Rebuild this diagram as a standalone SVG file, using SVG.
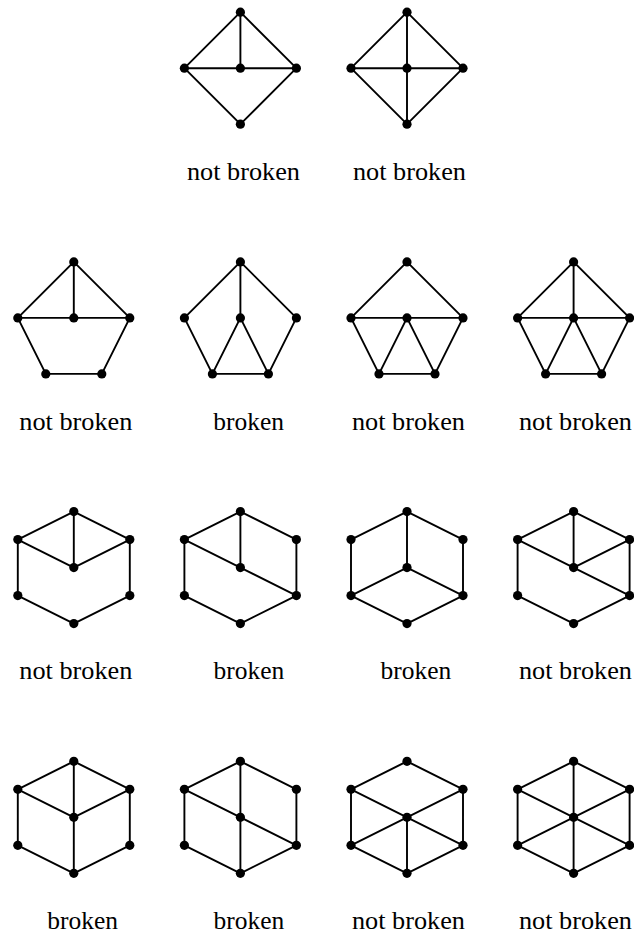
<svg xmlns="http://www.w3.org/2000/svg" width="634" height="933" viewBox="0 0 634 933">
<style>
.e{fill:none;stroke:#000;stroke-width:1.9;stroke-linejoin:round}
.n{fill:#000}
text{font-family:"Liberation Serif","Times New Roman","DejaVu Serif",serif;font-size:25px;fill:#000}
</style>
<rect width="634" height="933" fill="#fff"/>
<g id="connectors">
<path class="e" d="M240.4,12.2 L184.4,68.2 L240.4,124.2 L296.4,68.2 Z M184.4,68.2 H296.4 M240.4,12.2 V68.2"/>
<path class="e" d="M407,12.2 L351,68.2 L407,124.2 L463,68.2 Z M351,68.2 H463 M407,12.2 V124.2"/>
<path class="e" d="M73.8,261.9 L17.8,317.9 L45.8,373.9 H101.8 L129.8,317.9 Z M17.8,317.9 H129.8 M73.8,261.9 V317.9"/>
<path class="e" d="M240.4,261.9 L184.4,317.9 L212.4,373.9 H268.4 L296.4,317.9 Z M240.4,261.9 V317.9 M212.4,373.9 L240.4,317.9 L268.4,373.9"/>
<path class="e" d="M407,261.9 L351,317.9 L379,373.9 H435 L463,317.9 Z M351,317.9 H463 M379,373.9 L407,317.9 L435,373.9"/>
<path class="e" d="M573.6,261.9 L517.6,317.9 L545.6,373.9 H601.6 L629.6,317.9 Z M517.6,317.9 H629.6 M573.6,261.9 V317.9 M545.6,373.9 L573.6,317.9 L601.6,373.9"/>
<path class="e" d="M73.8,511.6 L129.8,539.6 V595.6 L73.8,623.6 L17.8,595.6 V539.6 Z M73.8,511.6 V567.6 M17.8,539.6 L73.8,567.6 L129.8,539.6"/>
<path class="e" d="M240.4,511.6 L296.4,539.6 V595.6 L240.4,623.6 L184.4,595.6 V539.6 Z M240.4,511.6 V567.6 M184.4,539.6 L240.4,567.6 L296.4,595.6"/>
<path class="e" d="M407,511.6 L463,539.6 V595.6 L407,623.6 L351,595.6 V539.6 Z M407,511.6 V567.6 M351,595.6 L407,567.6 L463,595.6"/>
<path class="e" d="M573.6,511.6 L629.6,539.6 V595.6 L573.6,623.6 L517.6,595.6 V539.6 Z M573.6,511.6 V567.6 M517.6,539.6 L573.6,567.6 L629.6,595.6 M573.6,567.6 L629.6,539.6"/>
<path class="e" d="M73.8,761.3 L129.8,789.3 V845.3 L73.8,873.3 L17.8,845.3 V789.3 Z M73.8,761.3 V873.3 M17.8,789.3 L73.8,817.3 L129.8,789.3"/>
<path class="e" d="M240.4,761.3 L296.4,789.3 V845.3 L240.4,873.3 L184.4,845.3 V789.3 Z M240.4,761.3 V873.3 M184.4,789.3 L296.4,845.3"/>
<path class="e" d="M407,761.3 L463,789.3 V845.3 L407,873.3 L351,845.3 V789.3 Z M351,789.3 L463,845.3 M351,845.3 L463,789.3 M407,817.3 V873.3"/>
<path class="e" d="M573.6,761.3 L629.6,789.3 V845.3 L573.6,873.3 L517.6,845.3 V789.3 Z M573.6,761.3 V873.3 M517.6,789.3 L629.6,845.3 M517.6,845.3 L629.6,789.3"/>
</g>
<g id="nodes">
<g id="a1-t"><circle class="n" cx="240.4" cy="12.2" r="4.6"/></g>
<g id="a1-l"><circle class="n" cx="184.4" cy="68.2" r="4.6"/></g>
<g id="a1-c"><circle class="n" cx="240.4" cy="68.2" r="4.6"/></g>
<g id="a1-r"><circle class="n" cx="296.4" cy="68.2" r="4.6"/></g>
<g id="a1-b"><circle class="n" cx="240.4" cy="124.2" r="4.6"/></g>
<g id="a2-t"><circle class="n" cx="407" cy="12.2" r="4.6"/></g>
<g id="a2-l"><circle class="n" cx="351" cy="68.2" r="4.6"/></g>
<g id="a2-c"><circle class="n" cx="407" cy="68.2" r="4.6"/></g>
<g id="a2-r"><circle class="n" cx="463" cy="68.2" r="4.6"/></g>
<g id="a2-b"><circle class="n" cx="407" cy="124.2" r="4.6"/></g>

<g id="b1-t"><circle class="n" cx="73.8" cy="261.9" r="4.6"/></g>
<g id="b1-l"><circle class="n" cx="17.8" cy="317.9" r="4.6"/></g>
<g id="b1-c"><circle class="n" cx="73.8" cy="317.9" r="4.6"/></g>
<g id="b1-r"><circle class="n" cx="129.8" cy="317.9" r="4.6"/></g>
<g id="b1-bl"><circle class="n" cx="45.8" cy="373.9" r="4.6"/></g>
<g id="b1-br"><circle class="n" cx="101.8" cy="373.9" r="4.6"/></g>
<g id="b2-t"><circle class="n" cx="240.4" cy="261.9" r="4.6"/></g>
<g id="b2-l"><circle class="n" cx="184.4" cy="317.9" r="4.6"/></g>
<g id="b2-c"><circle class="n" cx="240.4" cy="317.9" r="4.6"/></g>
<g id="b2-r"><circle class="n" cx="296.4" cy="317.9" r="4.6"/></g>
<g id="b2-bl"><circle class="n" cx="212.4" cy="373.9" r="4.6"/></g>
<g id="b2-br"><circle class="n" cx="268.4" cy="373.9" r="4.6"/></g>
<g id="b3-t"><circle class="n" cx="407" cy="261.9" r="4.6"/></g>
<g id="b3-l"><circle class="n" cx="351" cy="317.9" r="4.6"/></g>
<g id="b3-c"><circle class="n" cx="407" cy="317.9" r="4.6"/></g>
<g id="b3-r"><circle class="n" cx="463" cy="317.9" r="4.6"/></g>
<g id="b3-bl"><circle class="n" cx="379" cy="373.9" r="4.6"/></g>
<g id="b3-br"><circle class="n" cx="435" cy="373.9" r="4.6"/></g>
<g id="b4-t"><circle class="n" cx="573.6" cy="261.9" r="4.6"/></g>
<g id="b4-l"><circle class="n" cx="517.6" cy="317.9" r="4.6"/></g>
<g id="b4-c"><circle class="n" cx="573.6" cy="317.9" r="4.6"/></g>
<g id="b4-r"><circle class="n" cx="629.6" cy="317.9" r="4.6"/></g>
<g id="b4-bl"><circle class="n" cx="545.6" cy="373.9" r="4.6"/></g>
<g id="b4-br"><circle class="n" cx="601.6" cy="373.9" r="4.6"/></g>

<g id="c1-t"><circle class="n" cx="73.8" cy="511.6" r="4.6"/></g>
<g id="c1-ul"><circle class="n" cx="17.8" cy="539.6" r="4.6"/></g>
<g id="c1-ur"><circle class="n" cx="129.8" cy="539.6" r="4.6"/></g>
<g id="c1-c"><circle class="n" cx="73.8" cy="567.6" r="4.6"/></g>
<g id="c1-ll"><circle class="n" cx="17.8" cy="595.6" r="4.6"/></g>
<g id="c1-lr"><circle class="n" cx="129.8" cy="595.6" r="4.6"/></g>
<g id="c1-b"><circle class="n" cx="73.8" cy="623.6" r="4.6"/></g>
<g id="c2-t"><circle class="n" cx="240.4" cy="511.6" r="4.6"/></g>
<g id="c2-ul"><circle class="n" cx="184.4" cy="539.6" r="4.6"/></g>
<g id="c2-ur"><circle class="n" cx="296.4" cy="539.6" r="4.6"/></g>
<g id="c2-c"><circle class="n" cx="240.4" cy="567.6" r="4.6"/></g>
<g id="c2-ll"><circle class="n" cx="184.4" cy="595.6" r="4.6"/></g>
<g id="c2-lr"><circle class="n" cx="296.4" cy="595.6" r="4.6"/></g>
<g id="c2-b"><circle class="n" cx="240.4" cy="623.6" r="4.6"/></g>
<g id="c3-t"><circle class="n" cx="407" cy="511.6" r="4.6"/></g>
<g id="c3-ul"><circle class="n" cx="351" cy="539.6" r="4.6"/></g>
<g id="c3-ur"><circle class="n" cx="463" cy="539.6" r="4.6"/></g>
<g id="c3-c"><circle class="n" cx="407" cy="567.6" r="4.6"/></g>
<g id="c3-ll"><circle class="n" cx="351" cy="595.6" r="4.6"/></g>
<g id="c3-lr"><circle class="n" cx="463" cy="595.6" r="4.6"/></g>
<g id="c3-b"><circle class="n" cx="407" cy="623.6" r="4.6"/></g>
<g id="c4-t"><circle class="n" cx="573.6" cy="511.6" r="4.6"/></g>
<g id="c4-ul"><circle class="n" cx="517.6" cy="539.6" r="4.6"/></g>
<g id="c4-ur"><circle class="n" cx="629.6" cy="539.6" r="4.6"/></g>
<g id="c4-c"><circle class="n" cx="573.6" cy="567.6" r="4.6"/></g>
<g id="c4-ll"><circle class="n" cx="517.6" cy="595.6" r="4.6"/></g>
<g id="c4-lr"><circle class="n" cx="629.6" cy="595.6" r="4.6"/></g>
<g id="c4-b"><circle class="n" cx="573.6" cy="623.6" r="4.6"/></g>

<g id="d1-t"><circle class="n" cx="73.8" cy="761.3" r="4.6"/></g>
<g id="d1-ul"><circle class="n" cx="17.8" cy="789.3" r="4.6"/></g>
<g id="d1-ur"><circle class="n" cx="129.8" cy="789.3" r="4.6"/></g>
<g id="d1-c"><circle class="n" cx="73.8" cy="817.3" r="4.6"/></g>
<g id="d1-ll"><circle class="n" cx="17.8" cy="845.3" r="4.6"/></g>
<g id="d1-lr"><circle class="n" cx="129.8" cy="845.3" r="4.6"/></g>
<g id="d1-b"><circle class="n" cx="73.8" cy="873.3" r="4.6"/></g>
<g id="d2-t"><circle class="n" cx="240.4" cy="761.3" r="4.6"/></g>
<g id="d2-ul"><circle class="n" cx="184.4" cy="789.3" r="4.6"/></g>
<g id="d2-ur"><circle class="n" cx="296.4" cy="789.3" r="4.6"/></g>
<g id="d2-c"><circle class="n" cx="240.4" cy="817.3" r="4.6"/></g>
<g id="d2-ll"><circle class="n" cx="184.4" cy="845.3" r="4.6"/></g>
<g id="d2-lr"><circle class="n" cx="296.4" cy="845.3" r="4.6"/></g>
<g id="d2-b"><circle class="n" cx="240.4" cy="873.3" r="4.6"/></g>
<g id="d3-t"><circle class="n" cx="407" cy="761.3" r="4.6"/></g>
<g id="d3-ul"><circle class="n" cx="351" cy="789.3" r="4.6"/></g>
<g id="d3-ur"><circle class="n" cx="463" cy="789.3" r="4.6"/></g>
<g id="d3-c"><circle class="n" cx="407" cy="817.3" r="4.6"/></g>
<g id="d3-ll"><circle class="n" cx="351" cy="845.3" r="4.6"/></g>
<g id="d3-lr"><circle class="n" cx="463" cy="845.3" r="4.6"/></g>
<g id="d3-b"><circle class="n" cx="407" cy="873.3" r="4.6"/></g>
<g id="d4-t"><circle class="n" cx="573.6" cy="761.3" r="4.6"/></g>
<g id="d4-ul"><circle class="n" cx="517.6" cy="789.3" r="4.6"/></g>
<g id="d4-ur"><circle class="n" cx="629.6" cy="789.3" r="4.6"/></g>
<g id="d4-c"><circle class="n" cx="573.6" cy="817.3" r="4.6"/></g>
<g id="d4-ll"><circle class="n" cx="517.6" cy="845.3" r="4.6"/></g>
<g id="d4-lr"><circle class="n" cx="629.6" cy="845.3" r="4.6"/></g>
<g id="d4-b"><circle class="n" cx="573.6" cy="873.3" r="4.6"/></g>
</g>
<g id="labels">
<text x="187" y="179.5" textLength="113" lengthAdjust="spacingAndGlyphs">not broken</text>
<text x="353" y="179.5" textLength="113" lengthAdjust="spacingAndGlyphs">not broken</text>
<text x="19.3" y="429.5" textLength="113" lengthAdjust="spacingAndGlyphs">not broken</text>
<text x="213.3" y="429.5" textLength="70.7" lengthAdjust="spacingAndGlyphs">broken</text>
<text x="352" y="429.5" textLength="113" lengthAdjust="spacingAndGlyphs">not broken</text>
<text x="519" y="429.5" textLength="113" lengthAdjust="spacingAndGlyphs">not broken</text>
<text x="19.3" y="679" textLength="113" lengthAdjust="spacingAndGlyphs">not broken</text>
<text x="213.5" y="679" textLength="70.7" lengthAdjust="spacingAndGlyphs">broken</text>
<text x="380.6" y="679" textLength="70.7" lengthAdjust="spacingAndGlyphs">broken</text>
<text x="519" y="679" textLength="113" lengthAdjust="spacingAndGlyphs">not broken</text>
<text x="47.3" y="928.5" textLength="70.7" lengthAdjust="spacingAndGlyphs">broken</text>
<text x="213.5" y="928.5" textLength="70.7" lengthAdjust="spacingAndGlyphs">broken</text>
<text x="352" y="928.5" textLength="113" lengthAdjust="spacingAndGlyphs">not broken</text>
<text x="519" y="928.5" textLength="113" lengthAdjust="spacingAndGlyphs">not broken</text>
</g>
</svg>
